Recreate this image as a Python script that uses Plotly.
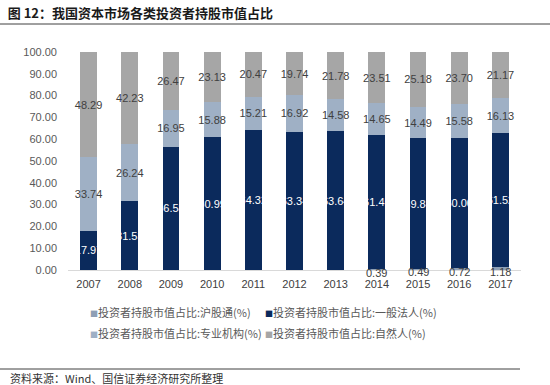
import plotly.graph_objects as go

years = ['2007', '2008', '2009', '2010', '2011', '2012', '2013', '2014', '2015', '2016', '2017']
hgt = [None, None, None, None, None, None, None, 0.39, 0.49, 0.72, 1.18]
corp = [17.97, 31.53, 56.58, 60.99, 64.32, 63.34, 63.64, 61.45, 59.84, 60.00, 61.52]
inst = [33.74, 26.24, 16.95, 15.88, 15.21, 16.92, 14.58, 14.65, 14.49, 15.58, 16.13]
indiv = [48.29, 42.23, 26.47, 23.13, 20.47, 19.74, 21.78, 23.51, 25.18, 23.70, 21.17]

names = ['投资者持股市值占比:沪股通(%)', '投资者持股市值占比:一般法人(%)',
         '投资者持股市值占比:专业机构(%)', '投资者持股市值占比:自然人(%)']
colors = ['#8E9FB5', '#0B2A5C', '#9FB0C5', '#A6A6A6']
text_colors = ['#404040', '#FFFFFF', '#404040', '#404040']
series = [hgt, corp, inst, indiv]

FONT = 'Liberation Sans, Arial, Noto Sans CJK SC'
CJK = 'Noto Sans CJK SC, Liberation Sans'

fig = go.Figure()
for i, (name, vals, c, tc) in enumerate(zip(names, series, colors, text_colors)):
    fig.add_trace(go.Bar(
        x=years, y=vals, name=name, marker=dict(color=c, line=dict(width=0)),
        texttemplate='%{y:.2f}' if i > 0 else None,
        textposition='inside' if i > 0 else 'none', insidetextanchor='middle',
        textangle=0, constraintext='none', cliponaxis=False,
        textfont=dict(family=FONT, size=11, color=tc),
        showlegend=False,
    ))

# small 沪股通 labels drawn on top, just under the bar bottom (x = category index)
for idx, v in enumerate(hgt):
    if v is not None:
        fig.add_annotation(x=idx, y=v / 2, yshift=-3, text=f'{v:.2f}', showarrow=False,
                           font=dict(family=FONT, size=11, color=text_colors[0]))

fig.update_layout(
    barmode='stack', bargap=0.59,
    width=550, height=385,
    margin=dict(l=68, r=29, t=52, b=115),
    paper_bgcolor='white', plot_bgcolor='white',
    font=dict(family=FONT, size=11, color='#595959'),
    title=dict(text='<b>图 12：我国资本市场各类投资者持股市值占比</b>',
               x=0.014, xanchor='left', y=1 - 13 / 385, yanchor='middle',
               font=dict(family=CJK, size=13, color='#1a1a1a')),
    xaxis=dict(type='category', showline=True, linecolor='#D9D9D9', linewidth=1, ticks='',
               ticklabelstandoff=4,
               tickfont=dict(family=FONT, size=11, color='#404040'),
               showgrid=False, zeroline=False),
    yaxis=dict(range=[0, 100.001], tickvals=[0, 10, 20, 30, 40, 50, 60, 70, 80, 90, 100],
               tickformat='.2f', showgrid=False,
               showline=False, zeroline=False, ticklabelstandoff=10,
               tickfont=dict(family=FONT, size=11, color='#595959')),
)

# layout helpers (plot area: x 68..521, y 52..270 px)
def px_x(px):
    return (px - 68) / 453

def px_y(py):
    return (270 - py) / 218

# custom legend
leg_pos = [(88, 312), (263, 312), (88, 333), (263, 333)]
for (lx, ly), name, c in zip(leg_pos, names, colors):
    fig.add_annotation(
        xref='paper', yref='paper', x=px_x(lx), y=px_y(ly),
        xanchor='left', yanchor='middle', showarrow=False,
        text=f"<span style='color:{c};font-size:8px'>■</span>{name}",
        font=dict(family=CJK, size=11, color='#595959'),
    )

# title underline and footer line
fig.add_shape(type='line', xref='paper', yref='paper', x0=px_x(0), x1=px_x(550),
              y0=px_y(24), y1=px_y(24), line=dict(color='#404040', width=1))
fig.add_shape(type='line', xref='paper', yref='paper', x0=px_x(0), x1=px_x(520),
              y0=px_y(369), y1=px_y(369), line=dict(color='#404040', width=1))
fig.add_annotation(
    xref='paper', yref='paper', x=px_x(8), y=px_y(378), xanchor='left', yanchor='middle',
    showarrow=False, text='资料来源：Wind、国信证券经济研究所整理',
    font=dict(family=CJK, size=11, color='#333333'),
)

fig.write_html('out.html', config={'displayModeBar': False},
               post_script="document.body.style.margin='0';document.body.style.padding='0';")
